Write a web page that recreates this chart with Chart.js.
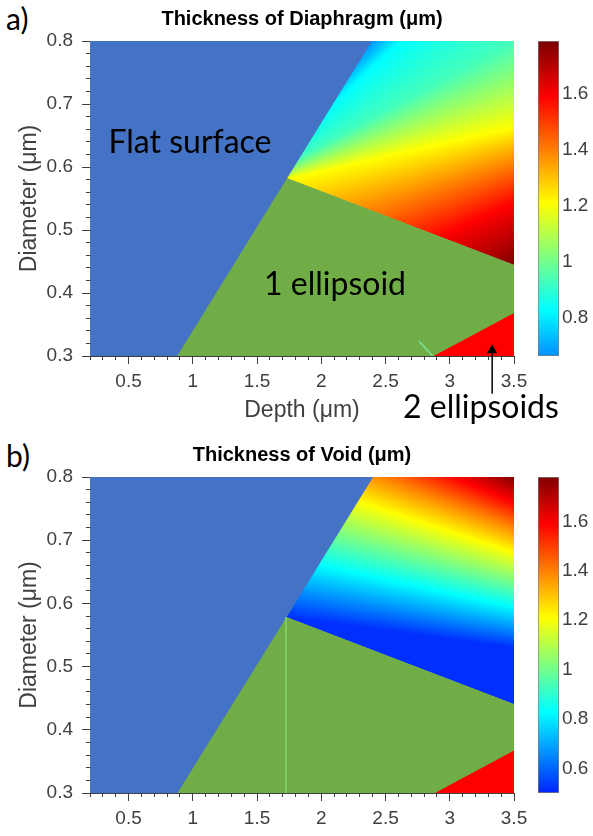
<!DOCTYPE html>
<html>
<head>
<meta charset="utf-8">
<title>Thickness of diaphragm and void</title>
<script src="https://cdn.jsdelivr.net/npm/chart.js@4.4.1/dist/chart.umd.min.js"></script>
<style>
  html, body { margin: 0; background: #fff; }
  #page { position: relative; width: 593px; height: 836px; overflow: hidden; }
  #page canvas { position: absolute; }
  .tag { position: absolute; left: 6px; font: 30px/30px Lato, sans-serif; color: #000; }
</style>
</head>
<body>
<div id="page">
  <div class="tag" style="top:3px">a)</div>
  <div class="tag" style="top:440px">b)</div>
  <canvas id="diaphragm" width="593" height="436" style="left:0;top:0"></canvas>
  <canvas id="diaphragmBar" width="63" height="436" style="left:530px;top:0"></canvas>
  <canvas id="void" width="593" height="400" style="left:0;top:436px"></canvas>
  <canvas id="voidBar" width="63" height="400" style="left:530px;top:436px"></canvas>
</div>
<script>
// ---- values (depth and diameter in µm) ----
const depthTicks = [0.5, 1, 1.5, 2, 2.5, 3, 3.5];
const diaTicks = [0.3, 0.4, 0.5, 0.6, 0.7, 0.8];

// a) diaphragm: region outlines
const flatDepthA = [0.2, 0.2, 2.39, 1.73, 0.875];
const flatDiaA   = [0.3, 0.8, 0.8, 0.582, 0.3];
const oneDepthA  = [0.875, 1.73, 3.5, 3.5, 2.867];
const oneDiaA    = [0.3, 0.582, 0.444, 0.369, 0.3];
const twoDepthA  = [2.867, 3.5, 3.5];
const twoDiaA    = [0.3, 0.369, 0.3];
const seamDepthA = [2.76, 2.867];
const seamDiaA   = [0.324, 0.3];
// coloured field, split along its yellow iso-line
const fieldUpDepthA  = [1.73, 2.39, 3.5, 3.5];
const fieldUpDiaA    = [0.582, 0.8, 0.8, 0.663];
const fieldLowDepthA = [1.73, 3.5, 3.5];
const fieldLowDiaA   = [0.582, 0.663, 0.444];
// thickness read at points of the field, and where the iso-lines meet
const probeUpDepthA = [2.39, 2.62, 3.5, 3.5];
const probeUpDiaA   = [0.8, 0.8, 0.8, 0.663];
const probeUpValA   = [0.664, 0.83, 0.93, 1.21];
const fanUpA = [1.367, 0.5635];
const probeLowDepthA = [3.5, 3.5, 3.5, 3.5];
const probeLowDiaA   = [0.663, 0.606, 0.543, 0.444];
const probeLowValA   = [1.21, 1.4, 1.59, 1.78];
const fanLowA = [6.12, 0.784];
const barA = [0.664, 1.79];
const barTicksA = [0.8, 1, 1.2, 1.4, 1.6];

// b) void
const flatDepthB = [0.2, 0.2, 2.4, 1.725, 0.877];
const flatDiaB   = [0.3, 0.8, 0.8, 0.578, 0.3];
const oneDepthB  = [0.877, 1.725, 3.5, 3.5, 2.877];
const oneDiaB    = [0.3, 0.578, 0.44, 0.368, 0.3];
const twoDepthB  = [2.877, 3.5, 3.5];
const twoDiaB    = [0.3, 0.368, 0.3];
const seamDepthB = [1.725, 1.725];
const seamDiaB   = [0.578, 0.3];
const fieldDepthB = [1.725, 2.4, 3.5, 3.5];
const fieldDiaB   = [0.578, 0.8, 0.8, 0.44];
const probeDepthB = [1.725, 3.5, 3.5, 3.5, 3.5, 3.5];
const probeDiaB   = [0.578, 0.594, 0.68, 0.721, 0.759, 0.8];
const probeValB   = [0.52, 0.83, 1.21, 1.4, 1.59, 1.78];
const fanB = [7.27, 0.428];
const barB = [0.5, 1.78];
const barTicksB = [0.6, 0.8, 1, 1.2, 1.4, 1.6];

// jet colour map knees (value -> colour), shared by both panels
const jetVals = [0.26, 0.45, 0.83, 1.21, 1.59, 1.78];
const jetRgb = [[0, 0, 128], [0, 0, 255], [0, 255, 255], [255, 255, 0], [255, 0, 0], [128, 0, 0]];

const FLAT = '#4472c4', ONE = '#70ad47', TWO = '#ff0000';
const AX = '#404040';
const FONT = '"Liberation Sans", Arial, sans-serif';
const NOTE_FONT = '32px Lato, sans-serif';

function jet(v) {
  if (v <= jetVals[0]) return `rgb(${jetRgb[0]})`;
  for (let i = 1; i < jetVals.length; i++) {
    if (v <= jetVals[i]) {
      const t = (v - jetVals[i - 1]) / (jetVals[i] - jetVals[i - 1]);
      const c = jetRgb[i].map((k, j) => Math.round(jetRgb[i - 1][j] + t * (k - jetRgb[i - 1][j])));
      return `rgb(${c})`;
    }
  }
  return `rgb(${jetRgb[jetRgb.length - 1]})`;
}

const pts = (xs, ys) => xs.map((v, i) => ({ x: v, y: ys[i] }));

// conic fill: iso-lines are rays through the fan point
function fanFill(fan, depths, dias, vals) {
  return (c) => {
    const chart = c.chart;
    if (!chart.chartArea) return null;
    const { x, y } = chart.scales;
    const cx = x.getPixelForValue(fan[0]), cy = y.getPixelForValue(fan[1]);
    const ang = depths.map((d, i) => Math.atan2(y.getPixelForValue(dias[i]) - cy, x.getPixelForValue(d) - cx));
    const ref = Math.atan2(ang.reduce((s, a) => s + Math.sin(a), 0), ang.reduce((s, a) => s + Math.cos(a), 0)) + Math.PI;
    const TAU = 2 * Math.PI;
    const turn = a => ((((a - ref) % TAU) + TAU) % TAU) / TAU;
    const g = chart.ctx.createConicGradient(ref, cx, cy);
    for (let i = 0; i < vals.length; i++) {
      g.addColorStop(turn(ang[i]), jet(vals[i]));
      if (i + 1 < vals.length) {
        jetVals.forEach(k => {
          if (k > vals[i] && k < vals[i + 1]) {
            const t = (k - vals[i]) / (vals[i + 1] - vals[i]);
            g.addColorStop(turn(ang[i]) + t * (turn(ang[i + 1]) - turn(ang[i])), jet(k));
          }
        });
      }
    }
    return g;
  };
}

function barFill(range) {
  return (c) => {
    const chart = c.chart;
    if (!chart.chartArea) return null;
    const y = chart.scales.y;
    const g = chart.ctx.createLinearGradient(0, y.getPixelForValue(range[0]), 0, y.getPixelForValue(range[1]));
    const span = range[1] - range[0];
    g.addColorStop(0, jet(range[0]));
    jetVals.forEach(k => { if (k > range[0] && k < range[1]) g.addColorStop((k - range[0]) / span, jet(k)); });
    g.addColorStop(1, jet(range[1]));
    return g;
  };
}

// free text placed in data coordinates
const notes = {
  id: 'notes',
  afterDraw(chart, args, opts) {
    if (!opts.items) return;
    const { ctx, scales: { x, y } } = chart;
    ctx.save();
    ctx.fillStyle = '#000';
    ctx.font = NOTE_FONT;
    ctx.textAlign = 'center';
    ctx.textBaseline = 'middle';
    opts.items.forEach(n => ctx.fillText(n.text, x.getPixelForValue(n.depth), y.getPixelForValue(n.dia)));
    ctx.restore();
  }
};

const depthMinor = Array.from({ length: 34 }, (_, i) => +(0.2 + i * 0.1).toFixed(2));
const diaMinor = Array.from({ length: 26 }, (_, i) => +(0.3 + i * 0.02).toFixed(2));

function region(xs, ys, color) {
  return {
    data: pts(xs, ys), showLine: true, fill: 'shape', order: 3,
    backgroundColor: color, borderColor: color, borderWidth: 1, pointRadius: 0
  };
}

function fieldChart(id, p) {
  const datasets = [
    region(p.flat[0], p.flat[1], FLAT),
    region(p.one[0], p.one[1], ONE),
    region(p.two[0], p.two[1], TWO),
    ...p.fields.map(f => region(f.outline[0], f.outline[1], fanFill(f.fan, f.probe[0], f.probe[1], f.probe[2]))),
    { data: pts(p.seam[0], p.seam[1]), showLine: true, fill: false, order: 1, borderColor: p.seamColor, borderWidth: 1.5, pointRadius: 0 }
  ];
  if (p.arrow) {
    datasets.push({
      data: pts(p.arrow[0], p.arrow[1]), showLine: true, fill: false, clip: false, order: 0,
      borderColor: '#000', borderWidth: 1.5, pointStyle: 'triangle',
      pointRadius: [0, 6], pointBackgroundColor: '#000', pointBorderWidth: 0
    });
  }
  return new Chart(document.getElementById(id), {
    type: 'scatter',
    data: { datasets },
    plugins: [notes],
    options: {
      responsive: false, animation: false, events: [],
      layout: { padding: { left: 0, right: 79, top: 0, bottom: 0 } },
      plugins: {
        legend: { display: false },
        tooltip: { enabled: false },
        title: {
          display: true, text: p.title, fullSize: false, color: '#000',
          font: { family: FONT, size: 20, weight: 'bold' }, padding: { top: 7, bottom: 10 }
        },
        notes: { items: p.notes }
      },
      scales: {
        x: {
          type: 'linear', position: 'bottom', min: 0.2, max: 3.5, weight: 1, z: 1,
          afterBuildTicks: s => { s.ticks = depthTicks.map(v => ({ value: v })); },
          afterFit: s => { s.height = p.xHeight; },
          ticks: { color: AX, font: { family: FONT, size: 19 }, padding: 6, maxRotation: 0, autoSkip: false, callback: v => String(v) },
          grid: { drawOnChartArea: false, tickLength: 8, tickColor: AX },
          border: { color: AX, width: 1 },
          title: { display: !!p.xTitle, text: p.xTitle, color: AX, font: { family: FONT, size: 23 }, padding: { top: 0, bottom: 12 } }
        },
        xMinor: {
          type: 'linear', position: 'bottom', min: 0.2, max: 3.5, weight: 0, z: 1,
          afterBuildTicks: s => { s.ticks = depthMinor.map(v => ({ value: v })); },
          afterFit: s => { s.height = 0; },
          ticks: { display: false },
          grid: { drawOnChartArea: false, tickLength: 4, tickColor: AX },
          border: { display: false }
        },
        y: {
          type: 'linear', position: 'left', min: 0.3, max: 0.8, weight: 1, z: 1,
          afterBuildTicks: s => { s.ticks = diaTicks.map(v => ({ value: v })); },
          afterFit: s => { s.width = 90; },
          ticks: { color: AX, font: { family: FONT, size: 19 }, padding: 9, callback: v => v.toFixed(1) },
          grid: { drawOnChartArea: false, tickLength: 8, tickColor: AX },
          border: { color: AX, width: 1 },
          title: { display: true, text: 'Diameter (μm)', color: AX, font: { family: FONT, size: 23 }, padding: { top: 16, bottom: 0 } }
        },
        yMinor: {
          type: 'linear', position: 'left', min: 0.3, max: 0.8, weight: 0, z: 1,
          afterBuildTicks: s => { s.ticks = diaMinor.map(v => ({ value: v })); },
          afterFit: s => { s.width = 0; },
          ticks: { display: false },
          grid: { drawOnChartArea: false, tickLength: 4, tickColor: AX },
          border: { display: false }
        }
      }
    }
  });
}

function colorBar(id, range, ticks, bottomPad) {
  return new Chart(document.getElementById(id), {
    type: 'bar',
    data: {
      labels: [''],
      datasets: [{
        data: [range], backgroundColor: barFill(range),
        borderColor: '#7f7f7f', borderWidth: 1, borderSkipped: false,
        barPercentage: 1, categoryPercentage: 1
      }]
    },
    options: {
      responsive: false, animation: false, events: [],
      layout: { padding: { left: 8, right: 0, top: 41, bottom: bottomPad } },
      plugins: { legend: { display: false }, tooltip: { enabled: false } },
      scales: {
        x: { display: false },
        y: {
          position: 'right', min: range[0], max: range[1], z: 1,
          afterBuildTicks: s => { s.ticks = ticks.map(v => ({ value: v })); },
          afterFit: s => { s.width = 34; },
          ticks: { color: AX, font: { family: FONT, size: 19 }, padding: 7, callback: v => String(v) },
          grid: { drawOnChartArea: false, tickLength: -4, tickColor: AX },
          border: { display: false }
        }
      }
    }
  });
}

fieldChart('diaphragm', {
  title: 'Thickness of Diaphragm (μm)', xTitle: 'Depth (μm)', xHeight: 80,
  flat: [flatDepthA, flatDiaA], one: [oneDepthA, oneDiaA], two: [twoDepthA, twoDiaA],
  fields: [
    { outline: [fieldUpDepthA, fieldUpDiaA], probe: [probeUpDepthA, probeUpDiaA, probeUpValA], fan: fanUpA },
    { outline: [fieldLowDepthA, fieldLowDiaA], probe: [probeLowDepthA, probeLowDiaA, probeLowValA], fan: fanLowA }
  ],
  seam: [seamDepthA, seamDiaA], seamColor: '#7de39a',
  arrow: [[3.33, 3.33], [0.24, 0.309]],
  notes: [
    { text: 'Flat surface', depth: 0.978, dia: 0.638 },
    { text: '1 ellipsoid', depth: 2.107, dia: 0.413 },
    { text: '2 ellipsoids', depth: 3.243, dia: 0.2175 }
  ]
});
colorBar('diaphragmBar', barA, barTicksA, 80);

fieldChart('void', {
  title: 'Thickness of Void (μm)', xTitle: '', xHeight: 43,
  flat: [flatDepthB, flatDiaB], one: [oneDepthB, oneDiaB], two: [twoDepthB, twoDiaB],
  fields: [
    { outline: [fieldDepthB, fieldDiaB], probe: [probeDepthB, probeDiaB, probeValB], fan: fanB }
  ],
  seam: [seamDepthB, seamDiaB], seamColor: '#86d46a',
  notes: []
});
colorBar('voidBar', barB, barTicksB, 43);
</script>
</body>
</html>
